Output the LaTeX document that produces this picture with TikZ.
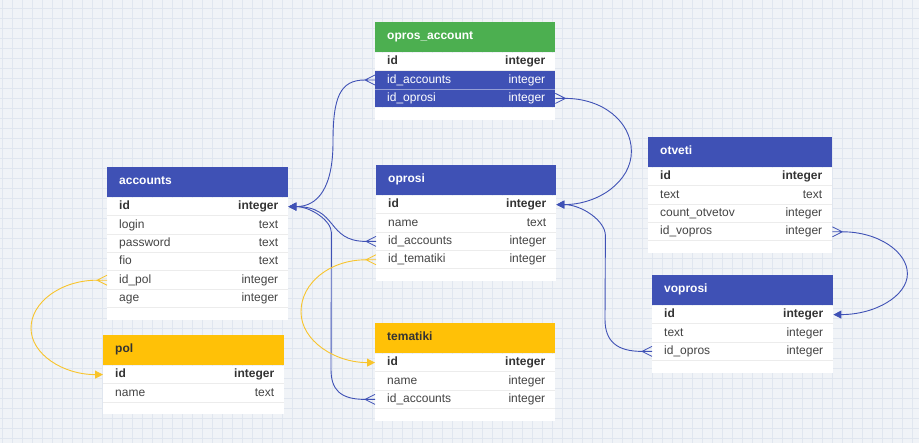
\documentclass[tikz,border=0pt]{standalone}
\usepackage{fontspec}
\setmainfont{Liberation Sans}
\usetikzlibrary{arrows.meta,positioning,calc}

\definecolor{erblue}{HTML}{3F51B5}
\definecolor{ergreen}{HTML}{4CAF50}
\definecolor{eryellow}{HTML}{FFC107}
\definecolor{linkyellow}{HTML}{F8C42C}
\definecolor{canvas}{HTML}{F0F3F7}
\definecolor{gridminor}{HTML}{E0E6EF}
\definecolor{rowsep}{HTML}{ECECEC}
\definecolor{fieldtext}{HTML}{444444}
\definecolor{keytext}{HTML}{333333}

% one table line: name on the left, type flush right
\newcommand\fieldline[3]{\hbox to #1pt{\hskip12pt #2\hfil #3\hskip10pt}}

\tikzset{
  x=1pt, y=-1pt,
  hdr/.style={anchor=north west, inner sep=0pt, minimum height=30pt,
    text height=8.6pt, text depth=3.2pt,
    font=\fontsize{12}{14}\selectfont\bfseries},
  fld/.style={inner sep=0pt, minimum height=18pt, fill=white,
    text height=8.6pt, text depth=2.4pt,
    font=\fontsize{12}{14}\selectfont, text=fieldtext},
  pk/.style={fld, font=\fontsize{12}{14}\selectfont\bfseries, text=keytext},
  fkrow/.style={fld, fill=erblue, text=white},
  tailpad/.style={inner sep=0pt, minimum height=12pt, fill=white},
  sepline/.style={draw=rowsep, line width=1pt},
  gridline/.style={draw=gridminor, line width=0.5pt},
  link/.style={draw=erblue, line width=0.9pt},
  linky/.style={draw=linkyellow, line width=0.9pt},
  onetip/.style={-{Triangle[length=8pt,width=8pt]}},
  crowleft/.pic={\draw[line width=0.8pt] (0,-5) -- (-10,0) -- (0,5) (-10,0) -- (0,0);},
  crowright/.pic={\draw[line width=0.8pt] (0,-5) -- (10,0) -- (0,5) (10,0) -- (0,0);},
}

\begin{document}
\begin{tikzpicture}
% canvas with grid
\fill[canvas] (0,0) rectangle (919,443);
\useasboundingbox (0,0) rectangle (919,443);
\foreach \gx in {2,12,...,912} \draw[gridline] (\gx,0) -- (\gx,443);
\foreach \gy in {8,18,...,438} \draw[gridline] (0,\gy) -- (919,\gy);

% ---------- opros_account ----------
\node[hdr, fill=ergreen, text=white] (opros_account) at (375,22) {\fieldline{180}{opros\_account}{}};
\node[pk, below=0pt of opros_account] (opros_account-id) {\fieldline{180}{id}{integer}};
\node[fkrow, below=0pt of opros_account-id] (opros_account-id_accounts) {\fieldline{180}{id\_accounts}{integer}};
\node[fkrow, below=0pt of opros_account-id_accounts] (opros_account-id_oprosi) {\fieldline{180}{id\_oprosi}{integer}};
\node[tailpad, minimum width=180pt, below=0pt of opros_account-id_oprosi] (opros_account-end) {};
\draw[draw=erblue!55!white, line width=1pt] (opros_account-id_accounts.south west) -- (opros_account-id_accounts.south east);

% ---------- accounts ----------
\node[hdr, fill=erblue, text=white] (accounts) at (107,167) {\fieldline{181}{accounts}{}};
\node[pk, below=0pt of accounts] (accounts-id) {\fieldline{181}{id}{integer}};
\node[fld, below=0pt of accounts-id] (accounts-login) {\fieldline{181}{login}{text}};
\node[fld, below=0pt of accounts-login] (accounts-password) {\fieldline{181}{password}{text}};
\node[fld, below=0pt of accounts-password] (accounts-fio) {\fieldline{181}{fio}{text}};
\node[fld, below=0pt of accounts-fio] (accounts-id_pol) {\fieldline{181}{id\_pol}{integer}};
\node[fld, below=0pt of accounts-id_pol] (accounts-age) {\fieldline{181}{age}{integer}};
\node[tailpad, minimum width=181pt, below=0pt of accounts-age] (accounts-end) {};

% ---------- oprosi ----------
\node[hdr, fill=erblue, text=white] (oprosi) at (376,165) {\fieldline{180}{oprosi}{}};
\node[pk, below=0pt of oprosi] (oprosi-id) {\fieldline{180}{id}{integer}};
\node[fld, below=0pt of oprosi-id] (oprosi-name) {\fieldline{180}{name}{text}};
\node[fld, below=0pt of oprosi-name] (oprosi-id_accounts) {\fieldline{180}{id\_accounts}{integer}};
\node[fld, below=0pt of oprosi-id_accounts] (oprosi-id_tematiki) {\fieldline{180}{id\_tematiki}{integer}};
\node[tailpad, minimum width=180pt, below=0pt of oprosi-id_tematiki] (oprosi-end) {};

% ---------- otveti ----------
\node[hdr, fill=erblue, text=white] (otveti) at (648,137) {\fieldline{184}{otveti}{}};
\node[pk, below=0pt of otveti] (otveti-id) {\fieldline{184}{id}{integer}};
\node[fld, below=0pt of otveti-id] (otveti-text) {\fieldline{184}{text}{text}};
\node[fld, below=0pt of otveti-text] (otveti-count_otvetov) {\fieldline{184}{count\_otvetov}{integer}};
\node[fld, below=0pt of otveti-count_otvetov] (otveti-id_vopros) {\fieldline{184}{id\_vopros}{integer}};
\node[tailpad, minimum width=184pt, below=0pt of otveti-id_vopros] (otveti-end) {};

% ---------- voprosi ----------
\node[hdr, fill=erblue, text=white] (voprosi) at (652,275) {\fieldline{181}{voprosi}{}};
\node[pk, below=0pt of voprosi] (voprosi-id) {\fieldline{181}{id}{integer}};
\node[fld, below=0pt of voprosi-id] (voprosi-text) {\fieldline{181}{text}{integer}};
\node[fld, below=0pt of voprosi-text] (voprosi-id_opros) {\fieldline{181}{id\_opros}{integer}};
\node[tailpad, minimum width=181pt, below=0pt of voprosi-id_opros] (voprosi-end) {};

% ---------- pol ----------
\node[hdr, fill=eryellow, text=keytext] (pol) at (103,335) {\fieldline{181}{pol}{}};
\node[pk, below=0pt of pol] (pol-id) {\fieldline{181}{id}{integer}};
\node[fld, below=0pt of pol-id] (pol-name) {\fieldline{181}{name}{text}};
\node[tailpad, minimum width=181pt, below=0pt of pol-name] (pol-end) {};

% ---------- tematiki ----------
\node[hdr, fill=eryellow, text=keytext] (tematiki) at (375,323) {\fieldline{180}{tematiki}{}};
\node[pk, below=0pt of tematiki] (tematiki-id) {\fieldline{180}{id}{integer}};
\node[fld, below=0pt of tematiki-id] (tematiki-name) {\fieldline{180}{name}{integer}};
\node[fld, below=0pt of tematiki-name] (tematiki-id_accounts) {\fieldline{180}{id\_accounts}{integer}};
\node[tailpad, minimum width=180pt, below=0pt of tematiki-id_accounts] (tematiki-end) {};

% row separators
\foreach \r in {accounts-id, accounts-login, accounts-password, accounts-fio,
    accounts-id_pol, accounts-age, oprosi-id, oprosi-name, oprosi-id_accounts,
    oprosi-id_tematiki, otveti-id, otveti-text, otveti-count_otvetov,
    otveti-id_vopros, voprosi-id, voprosi-text, voprosi-id_opros, pol-id,
    pol-name, tematiki-id, tematiki-name, tematiki-id_accounts, opros_account-id}
  \draw[sepline] (\r.south west) -- (\r.south east);

% ---------- relations ----------
% opros_account.id_accounts -> accounts.id
\draw[link, onetip] ($(opros_account-id_accounts.west)+(-10,0)$)
  .. controls +(-25,0) and +(0,-45) .. ($(opros_account-id_accounts.west)+(-42,62)$)
  .. controls +(0,45) and +(30,0) .. (accounts-id.east);
\pic[erblue] at (opros_account-id_accounts.west) {crowleft};

% oprosi.id_accounts -> accounts.id
\draw[link, onetip] ($(oprosi-id_accounts.west)+(-10,0)$)
  .. controls +(-40,0) and +(50,0) .. (accounts-id.east);
\pic[erblue] at (oprosi-id_accounts.west) {crowleft};

% tematiki.id_accounts -> accounts.id
\draw[link, onetip] ($(tematiki-id_accounts.west)+(-10,0)$)
  .. controls +(-25,0) and +(0,20) .. ($(tematiki-id_accounts.west)+(-44,-30)$)
  -- ($(accounts-id.east)+(43,26)$)
  .. controls +(0,-12) and +(22,0) .. (accounts-id.east);
\pic[erblue] at (tematiki-id_accounts.west) {crowleft};

% oprosi.id_tematiki -> tematiki.id
\draw[linky, onetip] ($(oprosi-id_tematiki.west)+(-10,0)$)
  .. controls +(-36,0) and +(0,-29) .. ($(oprosi-id_tematiki.west)+(-75,52)$)
  .. controls +(0,29) and +(-40,0) .. (tematiki-id.west);
\pic[linkyellow] at (oprosi-id_tematiki.west) {crowleft};

% accounts.id_pol -> pol.id
\draw[linky, onetip] ($(accounts-id_pol.west)+(-10,0)$)
  .. controls +(-36,0) and +(0,-26) .. ($(accounts-id_pol.west)+(-76,48)$)
  .. controls +(0,26) and +(-40,0) .. (pol-id.west);
\pic[linkyellow] at (accounts-id_pol.west) {crowleft};

% opros_account.id_oprosi -> oprosi.id
\draw[link, onetip] ($(opros_account-id_oprosi.east)+(10,0)$)
  .. controls +(37,0) and +(0,-30) .. ($(opros_account-id_oprosi.east)+(76,53)$)
  .. controls +(0,30) and +(42,0) .. (oprosi-id.east);
\pic[erblue] at (opros_account-id_oprosi.east) {crowright};

% voprosi.id_opros -> oprosi.id
\draw[link, onetip] ($(voprosi-id_opros.west)+(-10,0)$)
  .. controls +(-25,0) and +(0,22) .. ($(voprosi-id_opros.west)+(-47,-32)$)
  -- ($(oprosi-id.east)+(49,31)$)
  .. controls +(0,-15) and +(25,0) .. (oprosi-id.east);
\pic[erblue] at (voprosi-id_opros.west) {crowleft};

% otveti.id_vopros -> voprosi.id
\draw[link, onetip] ($(otveti-id_vopros.east)+(10,0)$)
  .. controls +(36,0) and +(0,-22) .. ($(otveti-id_vopros.east)+(75,42)$)
  .. controls +(0,22) and +(42,0) .. (voprosi-id.east);
\pic[erblue] at (otveti-id_vopros.east) {crowright};
\end{tikzpicture}
\end{document}
